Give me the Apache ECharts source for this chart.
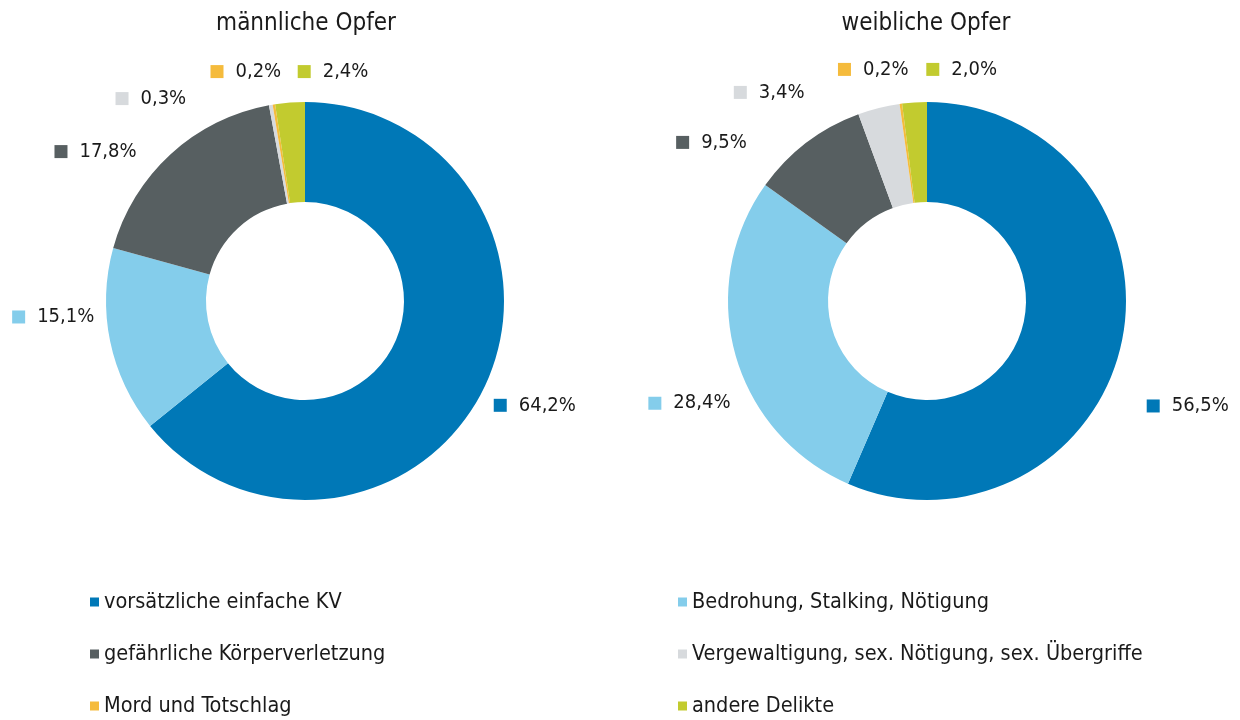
<!DOCTYPE html>
<html>
<head>
<meta charset="utf-8">
<script src="https://cdn.jsdelivr.net/npm/echarts@6/dist/echarts.min.js"></script>
<style>
  html, body { margin: 0; padding: 0; background: #fff; }
  #chart { width: 1240px; height: 720px; }
</style>
</head>
<body>
<div id="chart"></div>
<script>
const categories = [
  'vorsätzliche einfache KV',
  'Bedrohung, Stalking, Nötigung',
  'gefährliche Körperverletzung',
  'Vergewaltigung, sex. Nötigung, sex. Übergriffe',
  'Mord und Totschlag',
  'andere Delikte'
];
const maleValues   = [64.2, 15.1, 17.8, 0.3, 0.2, 2.4];
const femaleValues = [56.5, 28.4, 9.5, 3.4, 0.2, 2.0];
const pieTitles    = ['männliche Opfer', 'weibliche Opfer'];

const colors = ['#0078b7', '#84cdeb', '#575f61', '#d7dadd', '#f5bb3c', '#c2cb2f'];
const font   = "'Liberation Sans Narrow', 'DejaVu Sans Condensed', sans-serif";

// label nudges (px) on top of the automatic outside placement, like the hand-placed labels of the original
const maleLabelShift   = [[-7, 15], [-4, -26], [-12, -9], [14, -40], [75, -45], [88, -23]];
const femaleLabelShift = [[8, 63], [12, 47], [-24, -18], [10, -46], [80, -47], [92, -25]];

const chart = echarts.init(document.getElementById('chart'));

// little coloured square in front of each label
const rich = { v: { fontSize: 20, color: '#1a1a1a', fontFamily: font, padding: [0, 0, 0, 12] } };
colors.forEach((c, i) => {
  rich['s' + i] = { width: 13, height: 13, backgroundColor: c };
});

function buildPie(values, centerX, shifts) {
  return {
    type: 'pie',
    center: [centerX, 301],
    radius: [99, 199],
    startAngle: 90,
    clockwise: true,
    avoidLabelOverlap: true,
    label: {
      show: true,
      position: 'outside',
      formatter: p => `{s${p.dataIndex}|}{v|${p.value.toFixed(1).replace('.', ',')}%}`,
      rich: rich
    },
    labelLine: { show: false, length: 8, length2: 4 },
    labelLayout: p => ({ dx: shifts[p.dataIndex][0], dy: shifts[p.dataIndex][1] }),
    emphasis: { disabled: true },
    data: categories.map((name, i) => ({ name, value: values[i] }))
  };
}

const titleStyle = { fontFamily: font, fontSize: 24, fontWeight: 'normal', color: '#1a1a1a' };
const legendBase = {
  orient: 'vertical', top: 586, height: 200, itemGap: 30,
  icon: 'rect', itemWidth: 9, itemHeight: 9,
  selectedMode: false,
  textStyle: { fontFamily: font, fontSize: 21.5, color: '#1a1a1a' }
};

chart.setOption({
  color: colors,
  animation: false,
  title: [
    { text: pieTitles[0], left: 301, top: 7, textAlign: 'center', textStyle: titleStyle },
    { text: pieTitles[1], left: 921, top: 7, textAlign: 'center', textStyle: titleStyle }
  ],
  legend: [
    { ...legendBase, left: 85,  data: [categories[0], categories[2], categories[4]] },
    { ...legendBase, left: 673, data: [categories[1], categories[3], categories[5]] }
  ],
  series: [
    buildPie(maleValues, 305, maleLabelShift),
    buildPie(femaleValues, 927, femaleLabelShift)
  ]
});
</script>
</body>
</html>
